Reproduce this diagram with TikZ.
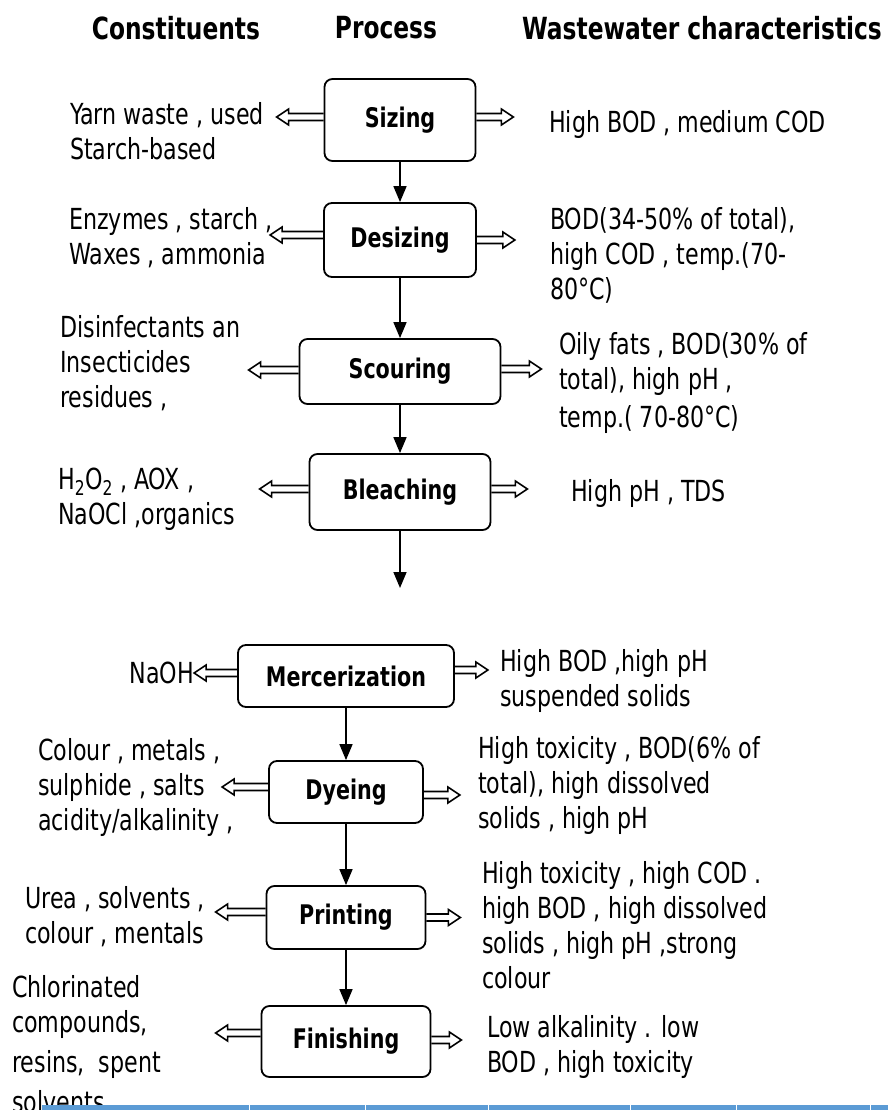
\documentclass[tikz,border=0pt]{standalone}
\usepackage{fontspec}
\setmainfont{DejaVu Sans Condensed}[FakeStretch=0.85]
\usepackage{xcolor}
\usetikzlibrary{arrows.meta,positioning,calc}
\definecolor{barblue}{RGB}{91,155,213}

\begin{document}
\begin{tikzpicture}[
    x=1pt,y=-1pt,
    every node/.style={inner sep=0pt},
    head/.style={font=\fontsize{30.5}{36}\selectfont\bfseries},
    txt/.style={font=\fontsize{29}{35}\selectfont,align=left,anchor=west},
    stage/.style={draw,line width=1.8pt,rounded corners=8pt,font=\fontsize{27}{32}\selectfont\bfseries},
    flow/.style={line width=1.6pt,-{Triangle[width=13pt,length=16pt]}},
    outflow/.style={line width=1.6pt,to path={
        let \p1=(\tikztostart), \p2=(\tikztotarget), \p3=($(\p2)!12pt!(\p1)$) in
        (\x1,\y1+3.5pt) -- (\x3,\y1+3.5pt) -- (\x3,\y1+8pt) -- (\x2,\y1)
        -- (\x3,\y1-8pt) -- (\x3,\y1-3.5pt) -- (\x1,\y1-3.5pt)}},
]
\useasboundingbox (0,0) rectangle (888,1110);
% Column heads
\node[head] (hCon) at (176,28) {Constituents};
\node[head] (hPro) at (386,28) {Process};
\node[head] (hWas) at (702,28) {Wastewater characteristics};
% Process stages
\node[stage,minimum width=151pt,minimum height=82pt] (siz) at (400,120) {Sizing};
\node[stage,minimum width=152pt,minimum height=74pt] (des) at (400,240) {Desizing};
\node[stage,minimum width=201pt,minimum height=65pt] (sco) at (400,371.5) {Scouring};
\node[stage,minimum width=181pt,minimum height=76pt] (ble) at (400,492) {Bleaching};
\node[stage,minimum width=216pt,minimum height=62pt] (mer) at (346,676) {Mercerization};
\node[stage,minimum width=154pt,minimum height=62pt] (dye) at (346,792) {Dyeing};
\node[stage,minimum width=159pt,minimum height=63pt] (pri) at (346,917.5) {Printing};
\node[stage,minimum width=169pt,minimum height=71pt] (fin) at (346,1041.5) {Finishing};
\coordinate (gap) at (400,588);
% Constituents
\node[txt] (sizC) at (70,131) {Yarn waste , used\\Starch-based};
\node[txt] (desC) at (69,237.5) {Enzymes , starch ,\\Waxes , ammonia};
\node[txt] (scoC) at (60,363.5) {Disinfectants an\\Insecticides\\residues ,};
\node[txt] (bleC) at (58,499) {H\textsubscript{2}O\textsubscript{2} , AOX ,\\NaOCl ,organics};
\node[txt,anchor=east] (merC) at (194,673) {NaOH};
\node[txt] (dyeC) at (38,787.5) {Colour , metals ,\\sulphide , salts\\acidity/alkalinity ,};
\node[txt] (priC) at (25,917) {Urea , solvents ,\\colour , mentals};
\node[txt] (finC) at (12,1044) {Chlorinated\\compounds,\\[5pt]resins,~ spent\\[5pt]solvents .};
% Wastewater characteristics
\node[txt] (sizW) at (549,125) {High BOD , medium COD};
\node[txt] (desW) at (550,255) {BOD(34-50\% of total),\\high COD , temp.(70-\\80°C)};
\node[txt] (scoW) at (559,382.5) {Oily fats , BOD(30\% of\\total), high pH ,\\[3pt]temp.( 70-80°C)};
\node[txt] (bleW) at (571,493) {High pH , TDS};
\node[txt] (merW) at (500,681) {High BOD ,high pH\\suspended solids};
\node[txt] (dyeW) at (478,785) {High toxicity , BOD(6\% of\\total), high dissolved\\solids , high pH};
\node[txt] (priW) at (482,925.5) {High toxicity , high COD .\\high BOD , high dissolved\\solids , high pH ,strong\\colour};
\node[txt] (finW) at (487,1046.5) {Low alkalinity . low\\BOD , high toxicity};
% Flow down the line
\draw[flow] (siz) -- (des);
\draw[flow] (des) -- (sco);
\draw[flow] (sco) -- (ble);
\draw[flow] (ble) -- (gap);
\draw[flow] (mer) -- (dye);
\draw[flow] (dye) -- (pri);
\draw[flow] (pri) -- (fin);
% In and out of each stage
\foreach \b/\l/\dl/\r/\dr in {siz/47/3/37/3, des/53/5/38/0, sco/50/1.5/40/2.5,
    ble/49/3/36/3, mer/43/3/33/6, dye/46/5/36/-3, pri/50/5.5/34/0, fin/45/8.5/30/1.5} {
    \draw[outflow] ([yshift=\dl pt]\b.west) to ([xshift=-\l pt,yshift=\dl pt]\b.west);
    \draw[outflow] ([yshift=\dr pt]\b.east) to ([xshift=\r pt,yshift=\dr pt]\b.east);
}
% Table edge below
\fill[barblue] (42,1105) rectangle (888,1112);
\foreach \x in {249,365,488,630,736,870}
    \draw[white,line width=1pt] (\x,1105) -- (\x,1112);
\end{tikzpicture}
\end{document}
